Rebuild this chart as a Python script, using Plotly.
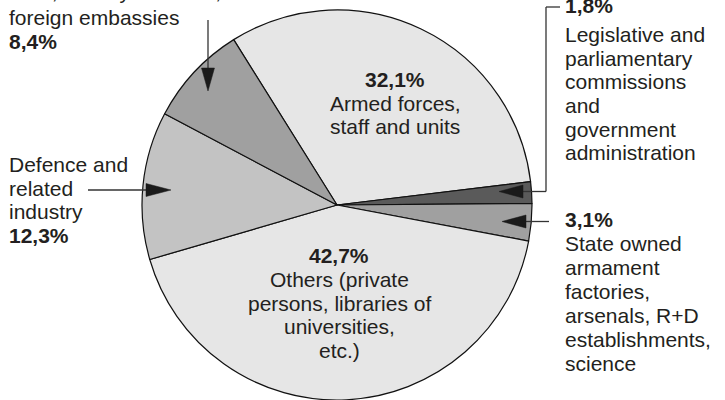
import plotly.graph_objects as go

# ---- data -------------------------------------------------------------
categories = [
    "Armed forces, staff and units",
    "Legislative and parliamentary commissions and government administration",
    "State owned armament factories, arsenals, R+D establishments, science",
    "Others (private persons, libraries of universities, etc.)",
    "Defence and related industry",
    "Staff, military attachés, foreign embassies",
]
values = [32.1, 1.8, 3.1, 42.7, 12.3, 8.4]
label_lines = [
    ["Armed forces,", "staff and units"],
    ["Legislative and", "parliamentary", "commissions", "and", "government", "administration"],
    ["State owned", "armament", "factories,", "arsenals, R+D", "establishments,", "science"],
    ["Others (private", "persons, libraries of", "universities,", "etc.)"],
    ["Defence and", "related", "industry"],
    ["Staff, military attachés,", "foreign embassies"],
]
colors = ["#e6e6e6", "#5a5a5a", "#a0a0a0", "#e6e6e6", "#c3c3c3", "#a0a0a0"]

# ---- layout helpers ----------------------------------------------------
W, H = 725, 400
FONT = "Liberation Sans, Arial, Helvetica, sans-serif"
FS = 21
TXT = "#231f20"
LINE = "#333333"
HEAD = "#1a1a1a"


def pct(v):
    return "<b>" + f"{v:.1f}".replace(".", ",") + "%</b>"


def px(x):
    return x / W


def py(y):
    return 1 - y / H


fig = go.Figure(
    go.Pie(
        labels=categories,
        values=values,
        sort=False,
        direction="clockwise",
        rotation=-32,
        marker=dict(colors=colors, line=dict(color="#111111", width=1.2)),
        textinfo="none",
        hoverinfo="label+percent",
        showlegend=False,
        domain=dict(x=[142 / W, 532 / W], y=[0, 390 / H]),
    )
)

annotations = []


def add_block(lines, x, baselines, anchor):
    for line, b in zip(lines, baselines):
        annotations.append(
            dict(
                text=line,
                x=px(x),
                y=py(b - 0.347 * FS),
                xref="paper",
                yref="paper",
                xanchor=anchor,
                yanchor="middle",
                showarrow=False,
                font=dict(family=FONT, size=FS, color=TXT),
                borderpad=0,
            )
        )


def step(start, n, d):
    return [start + i * d for i in range(n)]


# inside labels
add_block([pct(values[0])] + label_lines[0], 395, [87, 110.5, 134], "center")
add_block([pct(values[3])] + label_lines[3], 339, [263, 287, 310.5, 334, 357.5], "center")
# right labels
add_block([pct(values[1])] + label_lines[1], 564, [13] + step(42, 6, 23.6), "left")
add_block([pct(values[2])] + label_lines[2], 564, step(227, 7, 24), "left")
# left labels
add_block(label_lines[4] + [pct(values[4])], 8, [172, 195.5, 219, 243], "left")
add_block(label_lines[5] + [pct(values[5])], 8, [-1, 25, 48.5], "left")

shapes = []


def seg(x0, y0, x1, y1):
    shapes.append(
        dict(type="line", xref="paper", yref="paper",
             x0=px(x0), y0=py(y0), x1=px(x1), y1=py(y1),
             line=dict(color=LINE, width=1.3))
    )


def head(tx, ty, dx, dy, length=24, half=6.5):
    # tip at (tx, ty), pointing along (dx, dy) in pixel space
    bx, by = tx - dx * length, ty - dy * length
    nx, ny = -dy * half, dx * half
    pts = [(tx, ty), (bx + nx, by + ny), (bx - nx, by - ny)]
    path = "M " + " L ".join(f"{px(a):.5f},{py(b):.5f}" for a, b in pts) + " Z"
    shapes.append(
        dict(type="path", xref="paper", yref="paper", path=path,
             fillcolor=HEAD, line=dict(color=HEAD, width=0.5))
    )


# 8,4 % arrow (down)
seg(208, 20, 208, 70)
head(208, 91, 0, 1, length=23)
# defence arrow (right)
seg(88, 190, 150, 190)
head(171, 190, 1, 0, length=25)
# 1,8 % bracket arrow (left)
seg(560, 7, 546, 7)
seg(546, 7, 546, 191.5)
seg(546, 191.5, 520, 191.5)
head(499, 191.5, -1, 0, length=24)
# 3,1 % arrow (left)
seg(549, 221.5, 522, 221.5)
head(502, 221.5, -1, 0, length=24)

fig.update_layout(
    width=W,
    height=H,
    margin=dict(l=0, r=0, t=0, b=0),
    paper_bgcolor="white",
    plot_bgcolor="white",
    annotations=annotations,
    shapes=shapes,
    font=dict(family=FONT, size=FS, color=TXT),
)

fig.write_html(
    "out.html",
    config={"displayModeBar": False},
    post_script="document.body.style.margin='0';document.body.style.overflow='hidden';",
)
